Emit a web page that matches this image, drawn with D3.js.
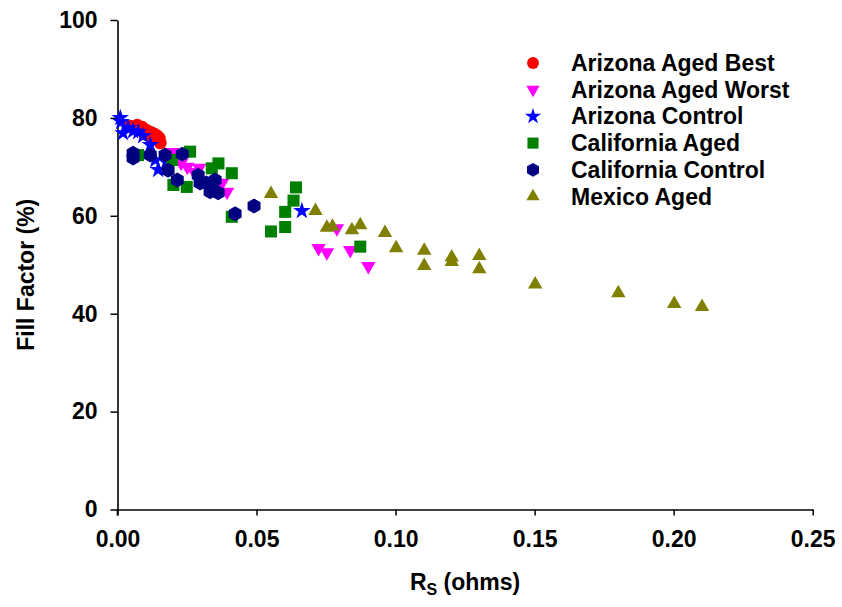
<!DOCTYPE html>
<html><head><meta charset="utf-8">
<script src="https://cdn.jsdelivr.net/npm/d3@7"></script>
<style>body{margin:0;background:#fff}svg{display:block}</style>
</head><body><svg id="c" width="842" height="607"></svg>
<script>
// ---- data ----
const seriesNames = ["Arizona Aged Best","Arizona Aged Worst","Arizona Control","California Aged","California Control","Mexico Aged"];
const seriesColors = ["#FF0000","#FF00FF","#0000FF","#008000","#000080","#808000"];
const xTicks = [0, 0.05, 0.10, 0.15, 0.20, 0.25];
const yTicks = [0, 20, 40, 60, 80, 100];

const azBestX = [0.0046,0.0071,0.0089,0.0103,0.0118,0.0132,0.0143,0.0146,0.0125,0.0096,0.0154,0.0150];
const azBestY = [78.3,78.5,78.1,77.5,77.1,76.7,76.3,75.5,76.1,76.7,74.9,75.9];

const azWorstX = [0.0197,0.0229,0.0251,0.0276,0.0294,0.0376,0.0394,0.0723,0.0753,0.0789,0.0837,0.0902];
const azWorstY = [73.0,70.8,70.0,68.9,69.8,66.7,64.9,53.4,52.5,57.4,53.0,49.7];

const azCtrlX = [0.0010,0.0013,0.0020,0.0038,0.0056,0.0074,0.0092,0.0118,0.0136,0.0146,0.0175,0.0663];
const azCtrlY = [80.0,79.2,76.9,77.9,77.3,77.1,76.3,74.5,71.4,69.4,71.0,61.0];

const caAgedX = [0.0074,0.0196,0.0261,0.0201,0.0249,0.0339,0.0363,0.0411,0.0411,0.0552,0.0603,0.0603,0.0633,0.0642,0.0873];
const caAgedY = [72.4,71.4,73.1,66.3,65.9,69.7,70.7,68.7,59.8,56.8,57.7,60.8,63.1,65.8,53.7];

const caCtrlX = [0.0056,0.0056,0.0118,0.0171,0.0233,0.0182,0.0215,0.0290,0.0297,0.0351,0.0333,0.0362,0.0423,0.0491,0.0319];
const caCtrlY = [72.8,71.8,72.4,72.4,72.6,69.3,67.3,68.3,66.7,67.3,64.9,64.7,60.4,62.0,66.7];

const mxAgedX = [0.0552,0.0712,0.0753,0.0773,0.0843,0.0873,0.0962,0.1002,0.1103,0.1103,0.1202,0.1202,0.1301,0.1301,0.1502,0.1801,0.2002,0.2102];
const mxAgedY = [64.5,61.0,57.6,57.8,57.1,58.1,56.5,53.4,52.9,49.8,51.5,50.6,51.8,49.1,46.0,44.2,42.0,41.4];

// ---- layout ----
const svg = d3.select("#c");
const FONT = "'Liberation Sans', Arial, sans-serif";
const FS = 23;
const x = d3.scaleLinear().domain([0, 0.25]).range([117.5, 812.7]);
const y = d3.scaleLinear().domain([0, 100]).range([509.5, 20]);

const hexagon = {
  draw(ctx, size) {
    const r = Math.sqrt(size / (3 * Math.sqrt(3) / 2));
    for (let i = 0; i < 6; i++) {
      const a = Math.PI / 2 + i * Math.PI / 3;
      const px = r * Math.cos(a), py = r * Math.sin(a);
      if (i === 0) ctx.moveTo(px, py); else ctx.lineTo(px, py);
    }
    ctx.closePath();
  }
};
const shapes = [
  {type: d3.symbolCircle, size: 130, rot: 0},
  {type: d3.symbolTriangle, size: 90, rot: 180},
  {type: d3.symbolStar, size: 95, rot: 0},
  {type: d3.symbolSquare, size: 145, rot: 0},
  {type: hexagon, size: 145, rot: 0},
  {type: d3.symbolTriangle, size: 90, rot: 0}
];
const allX = [azBestX, azWorstX, azCtrlX, caAgedX, caCtrlX, mxAgedX];
const allY = [azBestY, azWorstY, azCtrlY, caAgedY, caCtrlY, mxAgedY];

// axes
const gy = svg.append("g").attr("transform", `translate(${x(0)},0)`)
  .call(d3.axisLeft(y).tickValues(yTicks).tickFormat(d3.format(".0f")).tickSize(7).tickSizeOuter(0).tickPadding(13));
const gx = svg.append("g").attr("transform", `translate(0,${y(0)})`)
  .call(d3.axisBottom(x).tickValues(xTicks).tickFormat(d3.format(".2f")).tickSize(6).tickSizeOuter(0).tickPadding(15));
[gx, gy].forEach(g => {
  g.select(".domain").attr("stroke", "#000").attr("stroke-width", 1.6);
  g.selectAll(".tick line").attr("stroke", "#000").attr("stroke-width", 1.5);
  g.selectAll(".tick text").attr("font-family", FONT).attr("font-weight", "bold")
    .attr("font-size", FS).attr("fill", "#000");
});
svg.append("line").attr("x1", x(0)).attr("x2", x(0)).attr("y1", y(0)).attr("y2", y(0) + 6)
  .attr("stroke", "#000").attr("stroke-width", 1.6);

// points
allX.forEach((xs, si) => {
  const sh = shapes[si];
  const sym = d3.symbol().type(sh.type).size(sh.size);
  svg.append("g").selectAll("path").data(xs.map((v, i) => [v, allY[si][i]])).join("path")
    .attr("d", sym)
    .attr("transform", d => `translate(${x(d[0])},${y(d[1])}) rotate(${sh.rot})`)
    .attr("fill", seriesColors[si]);
});

// legend
const lg = svg.append("g");
seriesNames.forEach((name, i) => {
  const sh = shapes[i];
  const yy = 63 + i * 26.7;
  lg.append("path").attr("d", d3.symbol().type(sh.type).size(sh.size * 0.85)())
    .attr("transform", `translate(533,${yy}) rotate(${sh.rot})`).attr("fill", seriesColors[i]);
  lg.append("text").attr("x", 571).attr("y", yy + 8).text(name)
    .attr("font-family", FONT).attr("font-weight", "bold").attr("font-size", FS).attr("fill", "#000");
});

// axis titles
const xt = svg.append("text").attr("x", x(0.125)).attr("y", 590).attr("text-anchor", "middle")
  .attr("font-family", FONT).attr("font-weight", "bold").attr("font-size", FS).attr("fill", "#000");
xt.append("tspan").text("R");
xt.append("tspan").attr("font-size", 16).attr("dy", 5).text("S");
xt.append("tspan").attr("dy", -5).text(" (ohms)");

svg.append("text").attr("transform", `translate(34,${(y(0) + y(100)) / 2 + 10}) rotate(-90)`)
  .attr("text-anchor", "middle").attr("font-family", FONT).attr("font-weight", "bold")
  .attr("font-size", FS).attr("fill", "#000").text("Fill Factor (%)");
</script></body></html>
